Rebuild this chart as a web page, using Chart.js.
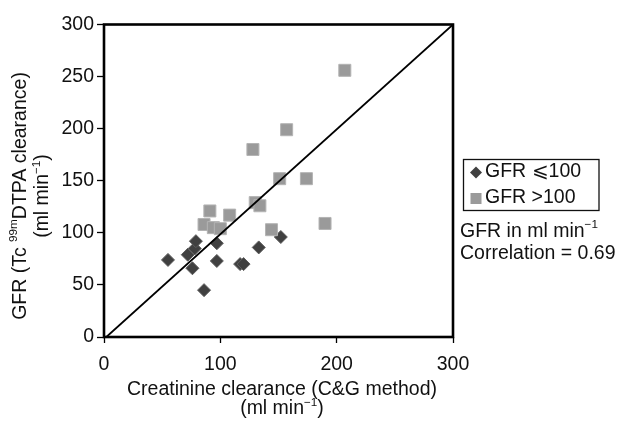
<!DOCTYPE html>
<html>
<head>
<meta charset="utf-8">
<script src="https://cdn.jsdelivr.net/npm/chart.js@4.4.1/dist/chart.umd.min.js"></script>
<style>
  body { margin: 0; background: #fff; }
  canvas { display: block; }
</style>
</head>
<body>
<canvas id="myChart" width="619" height="423"></canvas>
<script>
'use strict';

// GFR <= 100 (diamonds)
var lowX = [55, 72, 76, 78, 79, 86, 97, 97, 117, 120, 133, 152];
var lowY = [74, 79, 66, 85, 92, 45, 90, 73, 70, 70, 86, 96];
// GFR > 100 (squares)
var highX = [86, 91, 94, 100, 108, 128, 130, 134, 144, 151, 157, 174, 190, 207];
var highY = [108, 121, 105, 104, 117, 180, 129, 126, 103, 152, 199, 152, 109, 256];
// line of identity, as drawn
var lineX = [2, 300];
var lineY = [0, 300];

var xTicks = [0, 100, 200, 300];
var yTicks = [0, 50, 100, 150, 200, 250, 300];

var FONT = "'Liberation Sans', Arial, sans-serif";
var FS = 19.5;

function pts(xs, ys) {
  return xs.map(function(x, i) { return { x: x, y: ys[i] }; });
}

// text with superscript parts: [text, isSup]
function drawRich(ctx, parts, x, y, align) {
  var total = 0;
  parts.forEach(function(p) {
    ctx.font = (p[1] ? FS * 0.6 : FS) + 'px ' + FONT;
    total += ctx.measureText(p[0]).width;
  });
  var cx = align === 'left' ? x : x - total / 2;
  ctx.textAlign = 'left';
  ctx.textBaseline = 'middle';
  parts.forEach(function(p) {
    ctx.font = (p[1] ? FS * 0.6 : FS) + 'px ' + FONT;
    ctx.fillText(p[0], cx, p[1] ? y - FS * 0.34 : y);
    cx += ctx.measureText(p[0]).width;
  });
}

var extras = {
  id: 'extras',
  afterDatasetsDraw: function(chart) {
    var a = chart.chartArea, ctx = chart.ctx;
    ctx.save();
    ctx.strokeStyle = '#000';
    ctx.lineWidth = 2.6;
    ctx.strokeRect(a.left, a.top, a.right - a.left, a.bottom - a.top);
    ctx.restore();
  },
  afterDraw: function(chart) {
    var ctx = chart.ctx;
    ctx.save();
    ctx.fillStyle = '#111';

    // x axis title
    drawRich(ctx, [['Creatinine clearance (C&G method)', false]], 282, 390, 'center');
    drawRich(ctx, [['(ml min', false], ['\u22121', true], [')', false]], 282, 409, 'center');

    // y axis title
    ctx.save();
    ctx.translate(20.5, 196);
    ctx.rotate(-Math.PI / 2);
    drawRich(ctx, [['GFR (Tc ', false], ['99m', true], ['DTPA clearance)', false]], 0, 0, 'center');
    ctx.restore();
    ctx.save();
    ctx.translate(43, 196);
    ctx.rotate(-Math.PI / 2);
    drawRich(ctx, [['(ml min', false], ['\u22121', true], [')', false]], 0, 0, 'center');
    ctx.restore();

    // legend box
    ctx.strokeStyle = '#111';
    ctx.lineWidth = 1.3;
    ctx.strokeRect(463.5, 159.5, 135.5, 51);
    ctx.fillStyle = '#404040';
    ctx.beginPath();
    ctx.moveTo(476, 166.5);
    ctx.lineTo(482, 172.5);
    ctx.lineTo(476, 178.5);
    ctx.lineTo(470, 172.5);
    ctx.closePath();
    ctx.fill();
    ctx.fillStyle = '#9a9a9a';
    ctx.fillRect(470.5, 193, 11, 11);
    ctx.fillStyle = '#111';
    drawRich(ctx, [['GFR \u2a7d100', false]], 485, 172, 'left');
    drawRich(ctx, [['GFR >100', false]], 485, 197.5, 'left');

    // notes
    drawRich(ctx, [['GFR in ml min', false], ['\u22121', true]], 460, 231.5, 'left');
    drawRich(ctx, [['Correlation = 0.69', false]], 460, 254, 'left');
    ctx.restore();
  }
};

var ctx = document.getElementById('myChart').getContext('2d');

var chart = new Chart(ctx, {
  type: 'scatter',
  data: {
    datasets: [{
      label: 'Identity',
      data: pts(lineX, lineY),
      showLine: true,
      pointRadius: 0,
      borderColor: '#000',
      borderWidth: 1.8,
      order: 0
    },
    {
      label: 'GFR >100',
      data: pts(highX, highY),
      pointStyle: 'rect',
      pointRadius: 8.5,
      backgroundColor: '#9a9a9a',
      borderColor: '#b4b4b4',
      borderWidth: 1,
      order: 1
    },
    {
      label: 'GFR \u2a7d100',
      data: pts(lowX, lowY),
      pointStyle: 'rectRot',
      pointRadius: 6.5,
      backgroundColor: '#404040',
      borderColor: '#5c5c5c',
      borderWidth: 1,
      order: 2
    }]
  },
  options: {
    responsive: false,
    animation: false,
    devicePixelRatio: 1,
    layout: { padding: { left: 0, top: 24.5, right: 166, bottom: 0 } },
    plugins: {
      legend: { display: false },
      tooltip: { enabled: false }
    },
    scales: {
      x: {
        type: 'linear',
        min: 0,
        max: 300,
        afterFit: function(scale) { scale.height = 86; },
        afterBuildTicks: function(scale) {
          scale.ticks = xTicks.map(function(v) { return { value: v }; });
        },
        ticks: {
          color: '#111',
          padding: 10,
          maxRotation: 0,
          font: { family: FONT, size: FS }
        },
        grid: { drawOnChartArea: false, color: '#000', tickLength: 6, tickWidth: 1.3 },
        border: { display: false }
      },
      y: {
        type: 'linear',
        min: 0,
        max: 300,
        afterFit: function(scale) { scale.width = 104; },
        afterBuildTicks: function(scale) {
          scale.ticks = yTicks.map(function(v) { return { value: v }; });
        },
        ticks: {
          color: '#111',
          padding: 3,
          font: { family: FONT, size: FS }
        },
        grid: { drawOnChartArea: false, color: '#000', tickLength: 7, tickWidth: 1.3 },
        border: { display: false }
      }
    }
  },
  plugins: [extras]
});
</script>
</body>
</html>
